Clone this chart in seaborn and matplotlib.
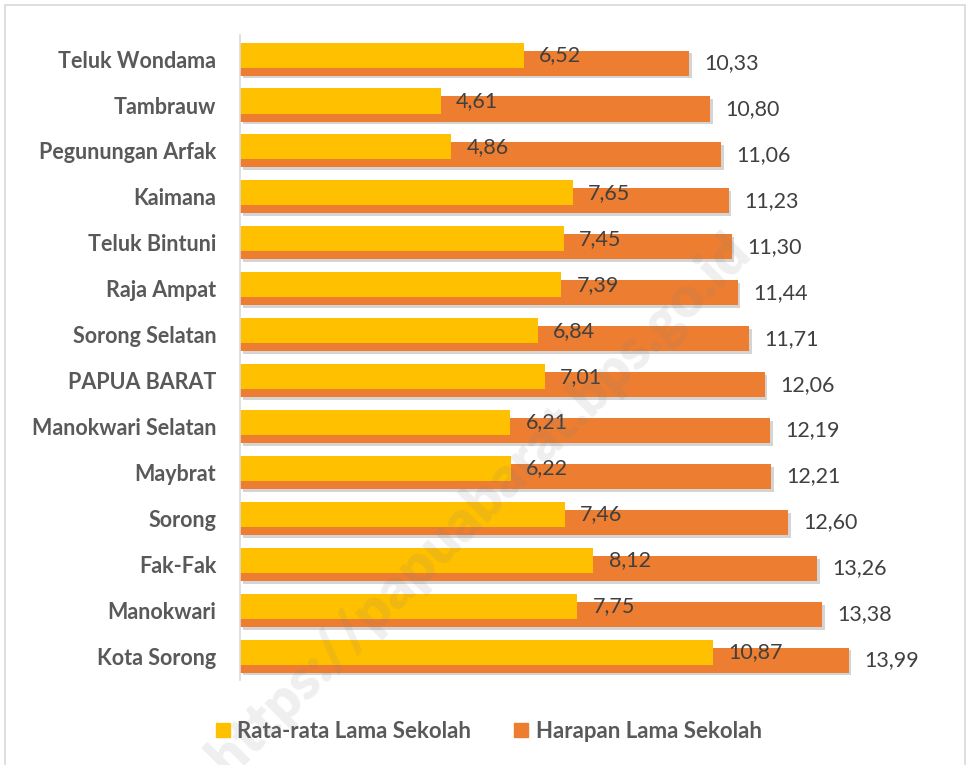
import seaborn as sns
import matplotlib.pyplot as plt
import matplotlib.patheffects as pe
from matplotlib.lines import Line2D
from matplotlib.patches import Rectangle
import numpy as np

regions = ["Teluk Wondama", "Tambrauw", "Pegunungan Arfak", "Kaimana", "Teluk Bintuni",
           "Raja Ampat", "Sorong Selatan", "PAPUA BARAT", "Manokwari Selatan", "Maybrat",
           "Sorong", "Fak-Fak", "Manokwari", "Kota Sorong"]
rls = [6.52, 4.61, 4.86, 7.65, 7.45, 7.39, 6.84, 7.01, 6.21, 6.22, 7.46, 8.12, 7.75, 10.87]
hls = [10.33, 10.80, 11.06, 11.23, 11.30, 11.44, 11.71, 12.06, 12.19, 12.21, 12.60, 13.26, 13.38, 13.99]

yellow = "#FFC000"
orange = "#ED7D31"
text_dark = "#404040"
text_label = "#595959"

sns.set_theme(style="white")
plt.rcParams["font.family"] = ["Lato", "DejaVu Sans"]

fig = plt.figure(figsize=(9.66, 7.65), dpi=100)
ax = fig.add_axes([0.2484, 0.111, 0.6756, 0.843])

pos = np.arange(len(regions))
shadow = [pe.SimplePatchShadow(offset=(2, -2), alpha=0.25, shadow_rgbFace="#555555"), pe.Normal()]

# orange (Harapan) drawn first, yellow (Rata-rata) on top, shifted up a bit
sns.barplot(x=hls, y=pos + 0.087, orient="y", native_scale=True, width=0.545,
            color=orange, saturation=1, linewidth=0, ax=ax)
sns.barplot(x=rls, y=pos - 0.087, orient="y", native_scale=True, width=0.545,
            color=yellow, saturation=1, linewidth=0, ax=ax)

for p in ax.containers[0]:
    p.set_path_effects(shadow)

fmt = lambda vals: [f"{v:.2f}".replace(".", ",") for v in vals]
ax.bar_label(ax.containers[0], labels=fmt(hls), padding=11, fontsize=15.5, color=text_dark)
ax.bar_label(ax.containers[1], labels=fmt(rls), padding=11, fontsize=15.5, color=text_dark)

ax.set_xlim(0, 15)
ax.set_ylim(13.52, -0.52)
ax.set_yticks(pos)
ax.set_yticklabels(regions, fontsize=15.5, fontweight="bold", color=text_label)
ax.tick_params(axis="y", length=0, pad=17)
ax.set_xticks([])
ax.set_xlabel("")
ax.set_ylabel("")
for s in ["top", "right", "bottom"]:
    ax.spines[s].set_visible(False)
ax.spines["left"].set_color("#D9D9D9")
ax.spines["left"].set_linewidth(1.2)

handles = [Line2D([], [], marker="s", linestyle="", markersize=10, color=yellow),
           Line2D([], [], marker="s", linestyle="", markersize=10, color=orange)]
leg = fig.legend(handles, ["Rata-rata Lama Sekolah", "Harapan Lama Sekolah"],
                 loc="center", bbox_to_anchor=(0.506, 0.044), ncol=2, frameon=False,
                 handlelength=0.6, handletextpad=0.35, columnspacing=1.95,
                 prop={"size": 16, "weight": "bold"})
for t in leg.get_texts():
    t.set_color(text_label)

# watermark
fig.text(0.497, 0.34, "https://papuabarat.bps.go.id", rotation=45, ha="center", va="center",
         fontsize=41, fontweight="heavy", color="#808080", alpha=0.13, zorder=10)

fig.patches.append(Rectangle((5 / 966, -0.01), 960 / 966, 1 - 5 / 765 + 0.01,
                             transform=fig.transFigure, fill=False,
                             edgecolor="#D9D9D9", linewidth=1.2))

fig.savefig("out.png", dpi=100)
